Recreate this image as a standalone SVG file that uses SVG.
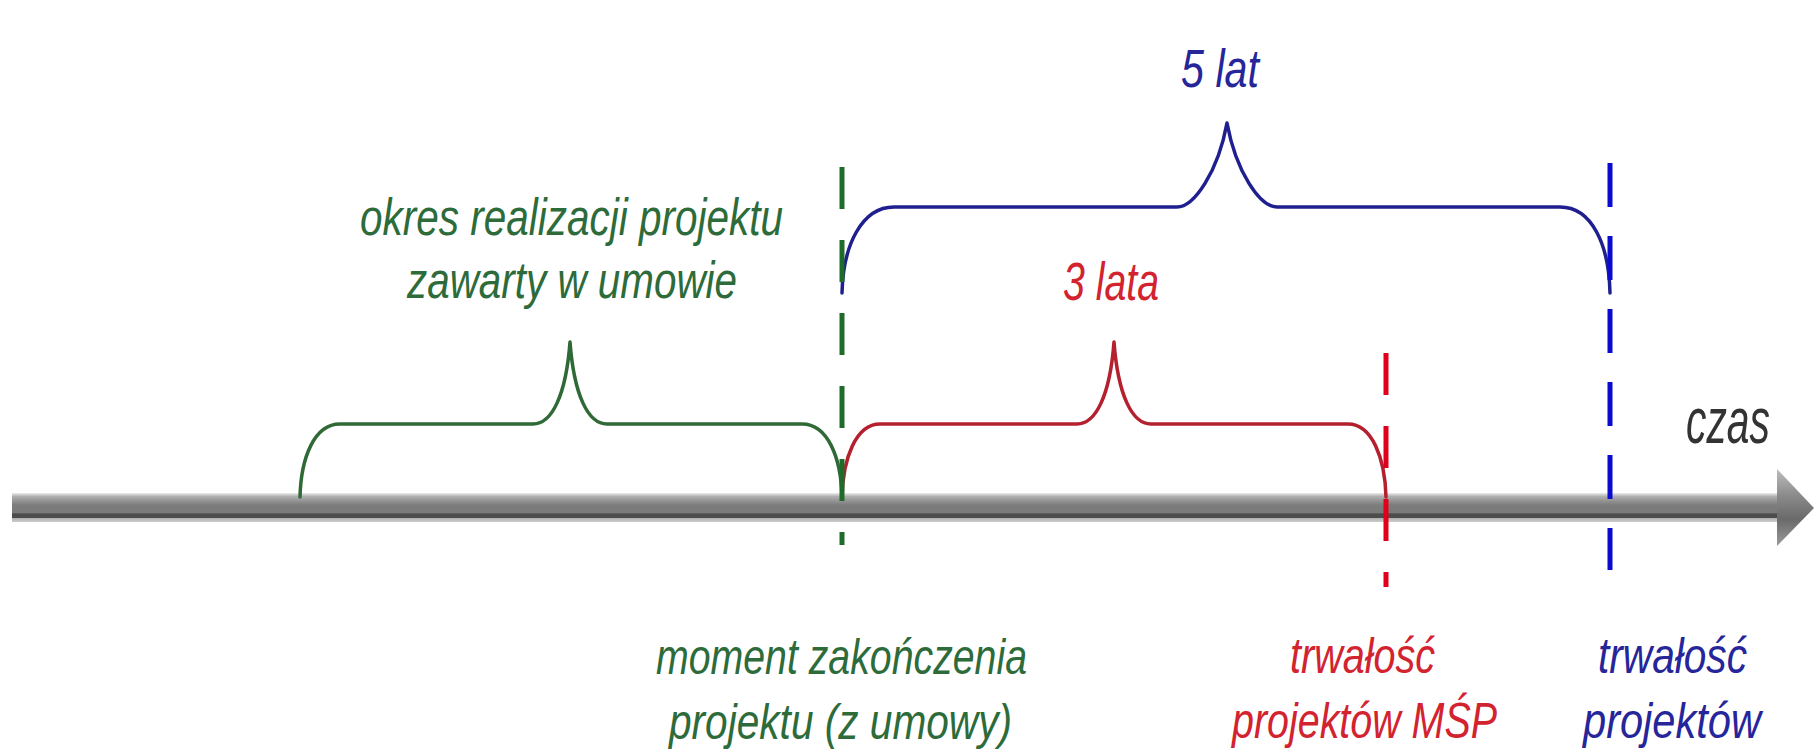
<svg xmlns="http://www.w3.org/2000/svg" width="1814" height="752" viewBox="0 0 1814 752">
<style>
text{font-family:"Liberation Sans","DejaVu Sans",Arial,sans-serif;font-style:italic}
.g{fill:#2d6b3a}
.r{fill:#d2232f}
.b{fill:#26269a}
.brace{fill:none;stroke-width:3.5;stroke-linecap:round;stroke-linejoin:round}
.dash{fill:none;stroke-width:5;stroke-dasharray:42 31}
</style>
<defs>
<linearGradient id="shaft" x1="0" y1="0" x2="0" y2="1">
<stop offset="0" stop-color="#ececec"/>
<stop offset="0.12" stop-color="#b0b0b0"/>
<stop offset="0.28" stop-color="#929292"/>
<stop offset="0.42" stop-color="#7c7c7c"/>
<stop offset="0.68" stop-color="#7a7a7a"/>
<stop offset="0.72" stop-color="#4c4c4c"/>
<stop offset="0.85" stop-color="#4c4c4c"/>
<stop offset="0.88" stop-color="#b4b4b4"/>
<stop offset="1" stop-color="#cccccc"/>
</linearGradient>
<linearGradient id="head" x1="0" y1="0" x2="0" y2="1">
<stop offset="0" stop-color="#bdbdbd"/>
<stop offset="0.35" stop-color="#8a8a8a"/>
<stop offset="0.65" stop-color="#6a6a6a"/>
<stop offset="1" stop-color="#9a9a9a"/>
</linearGradient>
</defs>
<rect width="1814" height="752" fill="#ffffff"/>

<g id="axis">
<rect x="12" y="493" width="1770" height="29" fill="url(#shaft)"/>
<polygon points="1777,469 1814,508 1777,546" fill="url(#head)"/>
<text x="1686" y="443" font-size="64" fill="#333333" textLength="84" lengthAdjust="spacingAndGlyphs">czas</text>
</g>

<g id="connectors">
<path class="brace" stroke="#2f6a36" d="M300,497 C301,458 314,424 340,424 L533,424 C552,424 566,395 570,342 C574,395 588,424 607,424 L802,424 C828,424 841,458 842,497"/>
<path class="brace" stroke="#b5202f" d="M842,497 C843,458 856,424 880,424 L1077,424 C1096,424 1110,395 1114,342 C1118,395 1132,424 1151,424 L1348,424 C1372,424 1385,458 1386,497"/>
<path class="brace" stroke="#1f1f8f" d="M842,293 C843,245 862,207 894,207 L1177,207 C1194,207 1218,172 1227,123 C1236,172 1260,207 1277,207 L1560,207 C1592,207 1609,245 1610,293"/>
</g>

<g id="marker-koniec">
<line class="dash" x1="842" y1="167" x2="842" y2="545" stroke="#1f6b2a"/>
<text class="g" x="656" y="674" font-size="50" textLength="371" lengthAdjust="spacingAndGlyphs">moment zakończenia</text>
<text class="g" x="669" y="739" font-size="50" textLength="343" lengthAdjust="spacingAndGlyphs">projektu (z umowy)</text>
</g>

<g id="marker-msp">
<line class="dash" x1="1386" y1="353" x2="1386" y2="587" stroke="#e0001c"/>
<text class="r" x="1290" y="673" font-size="50" textLength="145" lengthAdjust="spacingAndGlyphs">trwałość</text>
<text class="r" x="1232" y="738" font-size="50" textLength="265" lengthAdjust="spacingAndGlyphs">projektów MŚP</text>
</g>

<g id="marker-projekty">
<line class="dash" x1="1610" y1="163" x2="1610" y2="570" stroke="#0a0ad0" style="stroke-dasharray:44 29"/>
<text class="b" x="1598" y="673" font-size="50" textLength="149" lengthAdjust="spacingAndGlyphs">trwałość</text>
<text class="b" x="1583" y="738" font-size="50" textLength="178" lengthAdjust="spacingAndGlyphs">projektów</text>
</g>

<g id="okres-realizacji">
<text class="g" x="360" y="235" font-size="52" textLength="423" lengthAdjust="spacingAndGlyphs">okres realizacji projektu</text>
<text class="g" x="407" y="298" font-size="52" textLength="330" lengthAdjust="spacingAndGlyphs">zawarty w umowie</text>
</g>

<g id="okres-3-lata">
<text class="r" x="1063" y="300" font-size="54" textLength="96" lengthAdjust="spacingAndGlyphs">3 lata</text>
</g>

<g id="okres-5-lat">
<text class="b" x="1181" y="87" font-size="54" textLength="78" lengthAdjust="spacingAndGlyphs">5 lat</text>
</g>
</svg>
